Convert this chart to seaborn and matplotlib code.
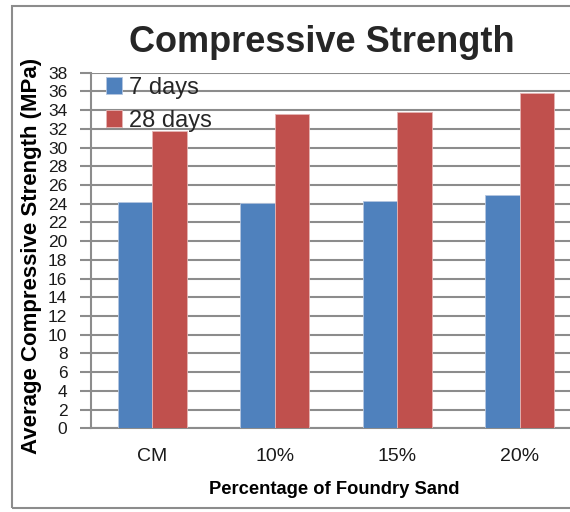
import pandas as pd
import matplotlib.pyplot as plt
import matplotlib.patches as mpatches
import seaborn as sns

# ================= data =================
categories = ['CM', '10%', '15%', '20%']
series_names = ['7 days', '28 days']
strength_7d = [24.15, 24.05, 24.3, 24.9]
strength_28d = [31.75, 33.55, 33.8, 35.85]
y_ticks = list(range(0, 39, 2))
# =========================================

FONT = ['Liberation Sans', 'DejaVu Sans']
GRID = '#8c8c8c'


def main():
    sns.set_theme(style='white')
    plt.rcParams['font.family'] = FONT

    df = pd.DataFrame({
        'category': categories * 2,
        'series': [series_names[0]] * 4 + [series_names[1]] * 4,
        'value': strength_7d + strength_28d,
    })

    fig = plt.figure(figsize=(5.70, 5.12), dpi=100)
    ax = fig.add_axes([91 / 570, 1 - 428.3 / 512, 490 / 570, 355.6 / 512])

    sns.barplot(data=df, x='category', y='value', hue='series',
                order=categories, hue_order=series_names,
                palette=['#4F81BD', '#C0504D'], saturation=1,
                width=0.56, linewidth=0.6,
                errorbar=None, ax=ax, zorder=3)

    # 邊框稍微淡一點
    for patch in ax.patches:
        if patch.get_facecolor()[0] > 0.6:
            patch.set_edgecolor('#e6b5b4')
        else:
            patch.set_edgecolor('#b4c6e0')

    ax.set_ylim(0, 38)
    ax.set_xlim(-0.5, 3.5)
    ax.set_yticks(y_ticks)
    ax.yaxis.grid(True, color=GRID, linewidth=1.5, zorder=0)
    ax.set_axisbelow(True)

    for side in ['top', 'right']:
        ax.spines[side].set_visible(False)
    for side in ['left', 'bottom']:
        ax.spines[side].set_color(GRID)
        ax.spines[side].set_linewidth(1.5)

    ax.tick_params(axis='y', length=8, width=1.5, color=GRID, direction='out',
                   pad=9, left=True, labelsize=12.5, labelcolor='#1a1a1a')
    ax.tick_params(axis='x', length=0, pad=14, labelsize=14,
                   labelcolor='#1a1a1a')

    ax.set_xlabel('Percentage of Foundry Sand', fontsize=13.2,
                  fontweight='bold', color='black')
    ax.xaxis.set_label_coords(0.496, -0.148)
    ax.set_ylabel('Average Compressive Strength (MPa)', fontsize=16,
                  fontweight='bold', color='black')
    ax.yaxis.set_label_coords(-0.10, 0.485)

    fig.text(322 / 570, 1 - 42 / 512, 'Compressive Strength',
             fontsize=26, fontweight='bold', ha='center', va='center')

    ax.legend(loc='upper left', bbox_to_anchor=(0.03, 0.988), frameon=False,
              fontsize=17, handlelength=0.7, handleheight=0.7,
              handletextpad=0.3, labelspacing=0.45, borderaxespad=0,
              borderpad=0)

    # 外框
    fig.patches.append(mpatches.Rectangle(
        (12 / 570, 1 - 508 / 512), 0.999, (508 - 6) / 512,
        transform=fig.transFigure, fill=False, edgecolor=GRID, linewidth=1.5))

    plt.savefig('out.png', dpi=100)
    plt.close()


if __name__ == '__main__':
    main()
